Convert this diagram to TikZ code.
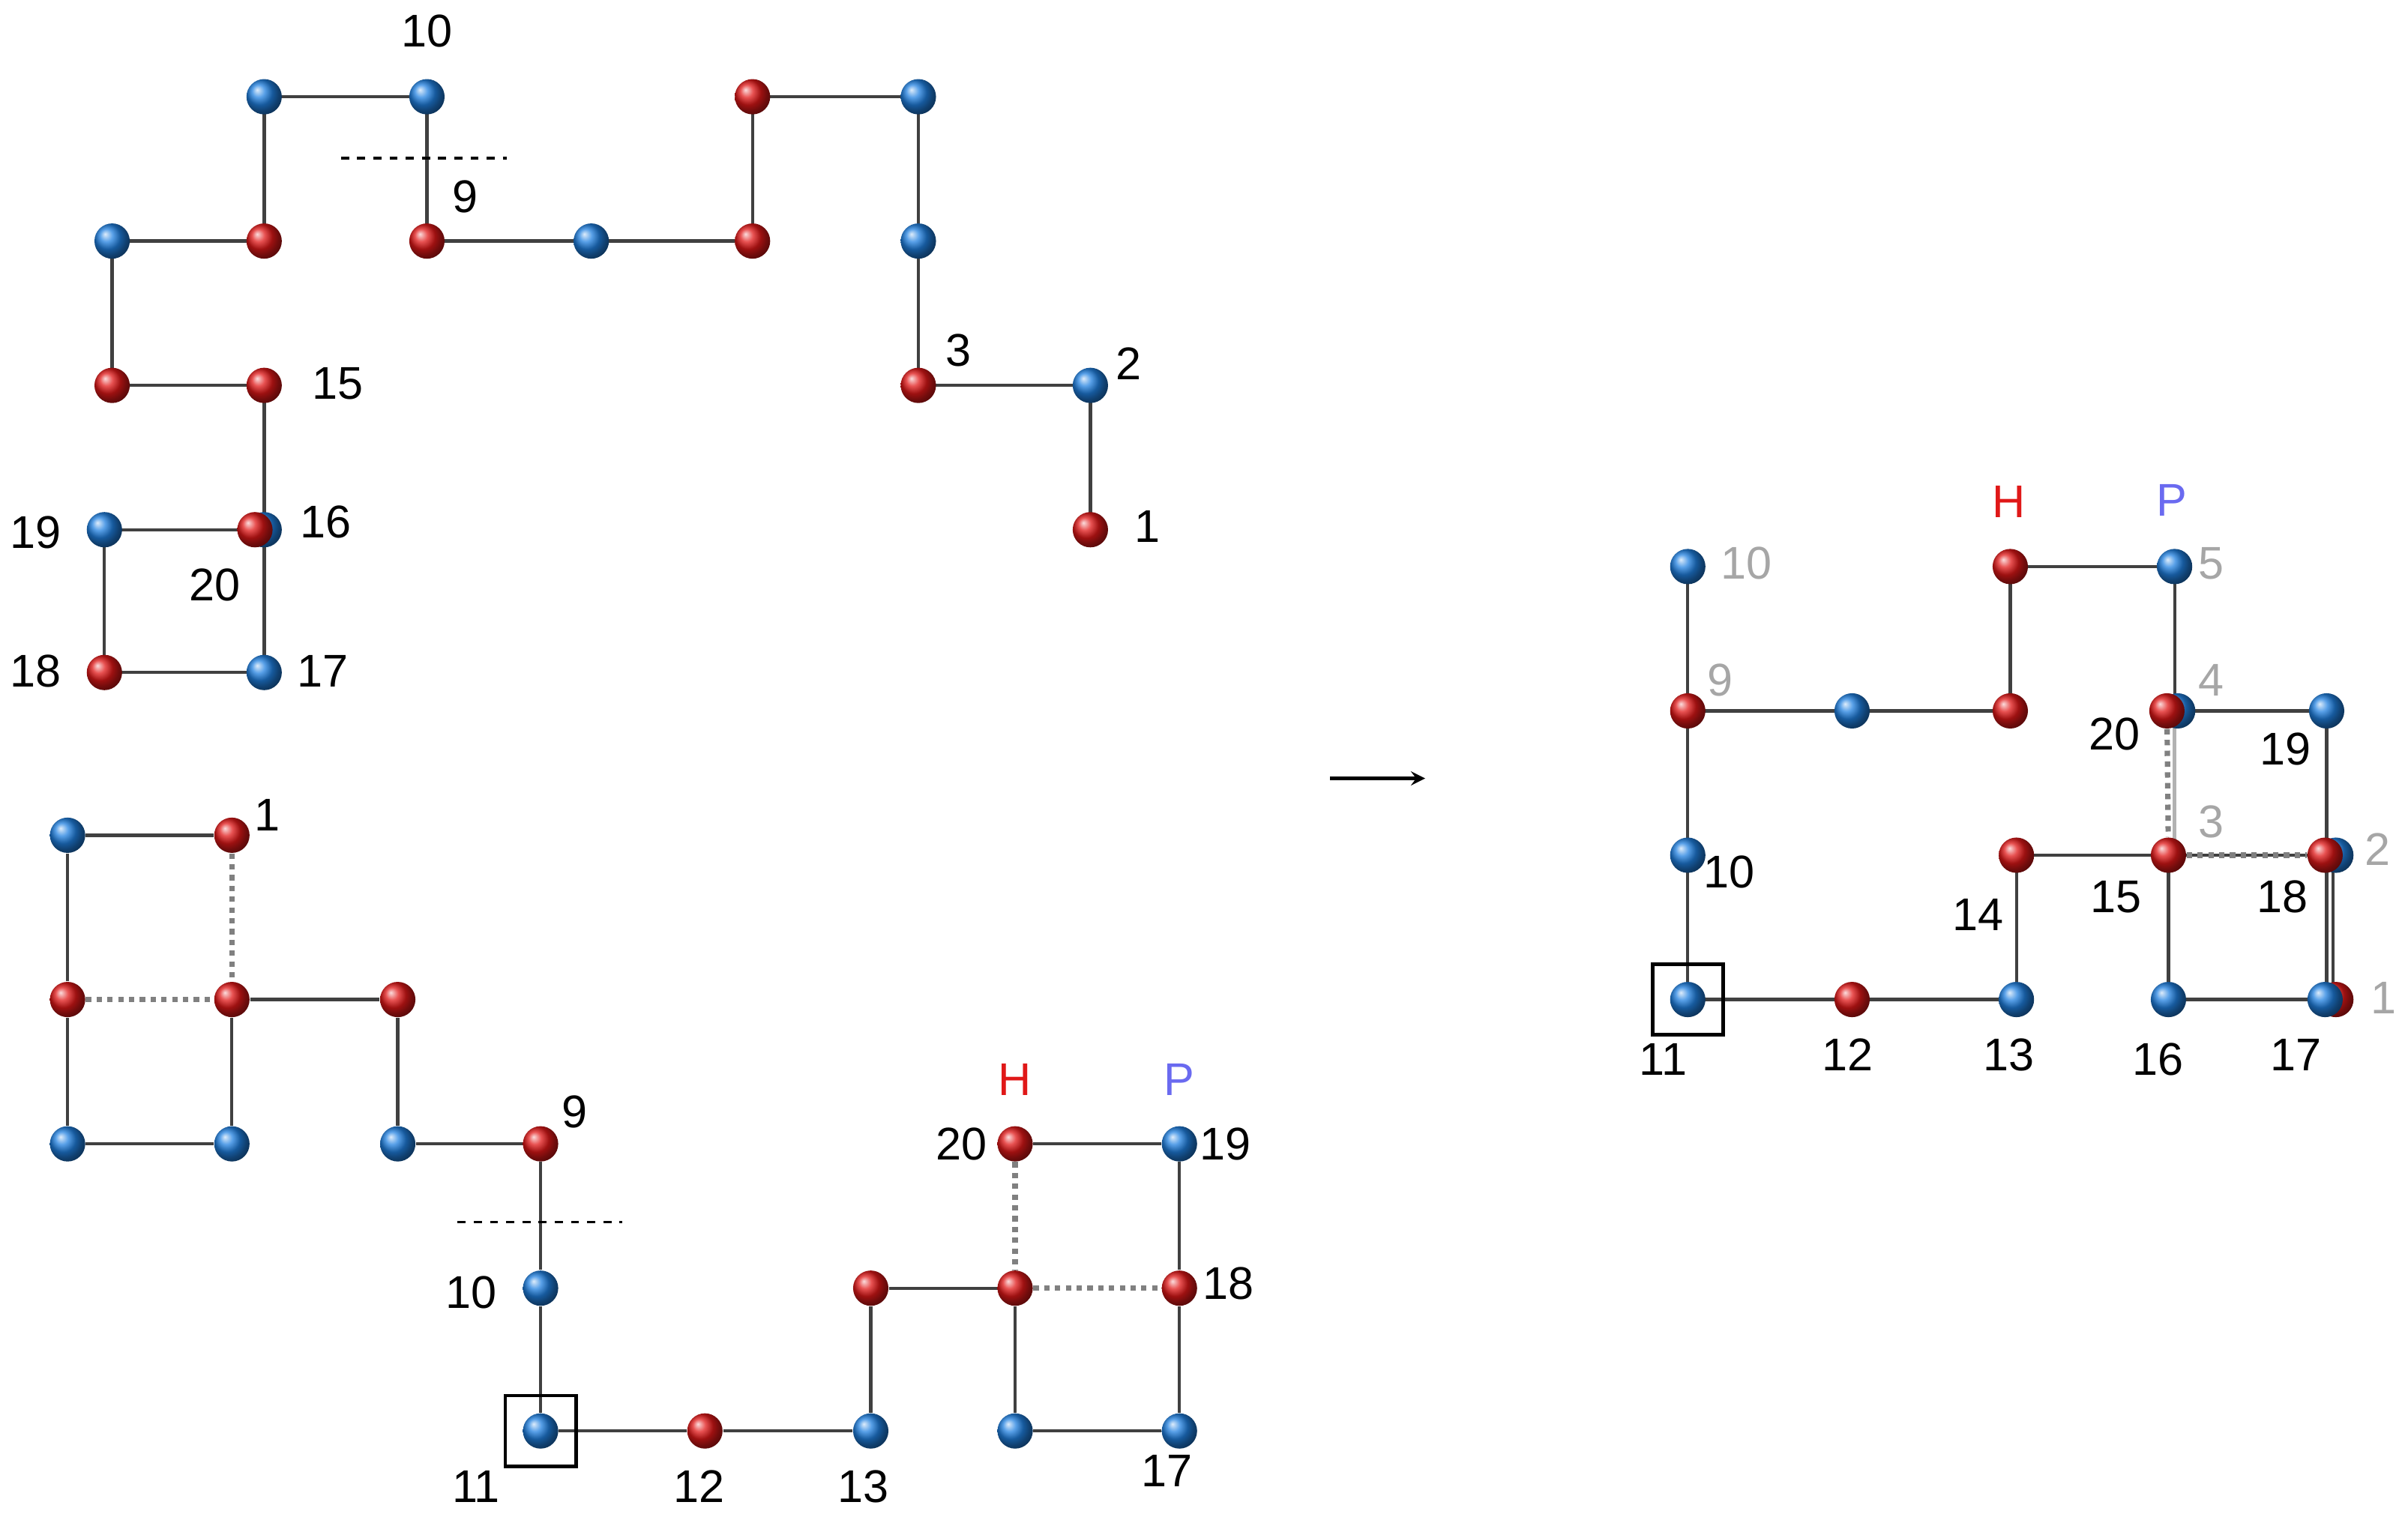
\documentclass[tikz,border=0pt]{standalone}
\usepackage{fontspec}
\setmainfont{Liberation Sans}
\usepackage{tikz}
\definecolor{bred}{HTML}{E01818}
\definecolor{bblue}{HTML}{2080E0}
\definecolor{pblue}{HTML}{6A6AF0}
\tikzset{
  r/.style={circle,inner sep=0pt,minimum size=0.46cm,ball color=bred,draw=none},
  b/.style={circle,inner sep=0pt,minimum size=0.46cm,ball color=bblue,draw=none},
  lab/.style={font=\fontsize{17}{20}\selectfont,inner sep=0pt},
  glab/.style={lab,text=gray!70},
  bond/.style={draw=black!75,line width=1.2pt},
  dbond/.style={draw=gray,line width=2pt,dotted},
  cut/.style={draw=black,line width=1pt,dashed}
}
\begin{document}
\begin{tikzpicture}[x=0.02cm,y=-0.02cm]
  \useasboundingbox (0,0) rectangle (1568,988);
  % top left chain
  \draw[bond] (710,345) -- (710,251) -- (598,251) -- (598,157) -- (598,63) -- (490,63) -- (490,157) -- (385,157) -- (278,157) -- (278,63) -- (172,63) -- (172,157) -- (73,157) -- (73,251) -- (172,251) -- (172,345) -- (172,438) -- (68,438) -- (68,345) -- (166,345);
  \draw[cut] (222,103) -- (330,103);
  \node[r] (a1) at (710,345) {};
  \node[b] (a2) at (710,251) {};
  \node[r] (a3) at (598,251) {};
  \node[b] (a4) at (598,157) {};
  \node[b] (a5) at (598,63) {};
  \node[r] (a6) at (490,63) {};
  \node[r] (a7) at (490,157) {};
  \node[b] (a8) at (385,157) {};
  \node[r] (a9) at (278,157) {};
  \node[b] (a10) at (278,63) {};
  \node[b] (a11) at (172,63) {};
  \node[r] (a12) at (172,157) {};
  \node[b] (a13) at (73,157) {};
  \node[r] (a14) at (73,251) {};
  \node[r] (a15) at (172,251) {};
  \node[b] (a16) at (172,345) {};
  \node[b] (a17) at (172,438) {};
  \node[r] (a18) at (68,438) {};
  \node[b] (a19) at (68,345) {};
  \node[r] (a20) at (166,345) {};
  \node[lab] at (278,20) {10};
  \node[lab] at (303,128) {9};
  \node[lab] at (624,228) {3};
  \node[lab] at (735,237) {2};
  \node[lab] at (747,343) {1};
  \node[lab] at (220,250) {15};
  \node[lab] at (212,340) {16};
  \node[lab] at (23,347) {19};
  \node[lab] at (140,381) {20};
  \node[lab] at (23,437) {18};
  \node[lab] at (210,437) {17};

  % bottom left chain
  \node[r] (c1) at (151,544) {};
  \node[b] (c2) at (44,544) {};
  \node[r] (c3) at (44,651) {};
  \node[b] (c4) at (44,745) {};
  \node[b] (c5) at (151,745) {};
  \node[r] (c6) at (151,651) {};
  \node[r] (c7) at (259,651) {};
  \node[b] (c8) at (259,745) {};
  \node[r] (c9) at (352,745) {};
  \node[b] (c10) at (352,839) {};
  \node[b] (c11) at (352,932) {};
  \node[r] (c12) at (459,932) {};
  \node[b] (c13) at (567,932) {};
  \node[r] (c14) at (567,839) {};
  \node[r] (c15) at (661,839) {};
  \node[b] (c16) at (661,932) {};
  \node[b] (c17) at (768,932) {};
  \node[r] (c18) at (768,839) {};
  \node[b] (c19) at (768,745) {};
  \node[r] (c20) at (661,745) {};
  \foreach \i/\j in {1/2,2/3,3/4,4/5,5/6,6/7,7/8,8/9,9/10,10/11,11/12,12/13,13/14,14/15,15/16,16/17,17/18,18/19,19/20}
    \draw[bond] (c\i) -- (c\j);
  \draw[dbond] (c1) -- (c6);
  \draw[dbond] (c3) -- (c6);
  \draw[dbond] (c20) -- (c15);
  \draw[dbond] (c15) -- (c18);
  \draw[cut] (298,796) -- (405,796);
  \draw[line width=1.3pt] (329,909) rectangle (375,955);
  \node[lab] at (174,531) {1};
  \node[lab] at (374,724) {9};
  \node[lab] at (307,842) {10};
  \node[lab] at (310,968) {11};
  \node[lab] at (455,968) {12};
  \node[lab] at (562,968) {13};
  \node[lab] at (760,958) {17};
  \node[lab] at (800,836) {18};
  \node[lab] at (798,745) {19};
  \node[lab] at (626,745) {20};
  \node[lab,text=bred] at (661,703) {H};
  \node[lab,text=pblue] at (768,703) {P};

  % arrow
  \coordinate (s) at (866,507);
  \coordinate (t) at (928,507);
  \draw[-stealth,line width=1.3pt] (s) -- (t);

  % right result
  \draw[bond] (1099,369) -- (1099,463) -- (1309,463) -- (1309,369) -- (1416,369) -- (1416,463);
  \draw[draw=gray!60,line width=1.4pt] (1416,463) -- (1416,557);
  \draw[bond] (1416,557) -- (1519,557) -- (1519,651);
  \draw[bond] (1099,463) -- (1099,651) -- (1313,651) -- (1313,557) -- (1412,557) -- (1412,651) -- (1515,651) -- (1515,463) -- (1412,463);
  \node[b] (g10) at (1099,369) {};
  \node[r] (d9) at (1099,463) {};
  \node[b] (g8) at (1206,463) {};
  \node[r] (g7) at (1309,463) {};
  \node[r] (g6) at (1309,369) {};
  \node[b] (g5) at (1416,369) {};
  \node[b] (g4) at (1418,463) {};
  \node[b] (g2) at (1521,557) {};
  \node[r] (g1) at (1521,651) {};
  \node[b] (d10) at (1099,557) {};
  \node[b] (d11) at (1099,651) {};
  \node[r] (d12) at (1206,651) {};
  \node[b] (d13) at (1313,651) {};
  \node[r] (d14) at (1313,557) {};
  \node[r] (d15) at (1412,557) {};
  \node[b] (d16) at (1412,651) {};
  \node[b] (d17) at (1514,651) {};
  \node[r] (d18) at (1514,557) {};
  \node[b] (d19) at (1515,463) {};
  \node[r] (d20) at (1411,463) {};
  \draw[dbond] (d20) -- (d15);
  \draw[dbond] (d15) -- (d18);
  \draw[line width=1.3pt] (1076,628) rectangle (1122,674);
  \node[glab] at (1137,367) {10};
  \node[glab] at (1120,443) {9};
  \node[glab] at (1440,367) {5};
  \node[glab] at (1440,443) {4};
  \node[glab] at (1440,535) {3};
  \node[glab] at (1548,553) {2};
  \node[glab] at (1552,650) {1};
  \node[lab,text=bred] at (1308,327) {H};
  \node[lab,text=pblue] at (1414,326) {P};
  \node[lab] at (1126,568) {10};
  \node[lab] at (1083,690) {11};
  \node[lab] at (1203,687) {12};
  \node[lab] at (1308,687) {13};
  \node[lab] at (1288,596) {14};
  \node[lab] at (1378,584) {15};
  \node[lab] at (1405,690) {16};
  \node[lab] at (1495,687) {17};
  \node[lab] at (1486,584) {18};
  \node[lab] at (1488,488) {19};
  \node[lab] at (1377,478) {20};
\end{tikzpicture}
\end{document}
